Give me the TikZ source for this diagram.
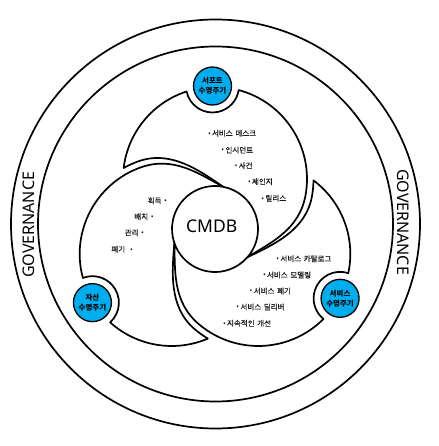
\documentclass[tikz,border=0pt]{standalone}
\usepackage{fontspec}
\setmainfont{Noto Sans}
\newfontfamily\kr{Noto Sans CJK KR}
\newfontfamily\krl[FakeBold=0.4]{Noto Sans CJK KR}
\newfontfamily\lat{Noto Sans}
\definecolor{lcblue}{RGB}{0,174,239}
\newcommand\bul{{\lat •}}
\newcommand\wsp{\hspace{0.35em}}
\begin{document}
\begin{tikzpicture}[x=1pt,y=1pt,
  outl/.style={draw=black, line width=1.7pt, line join=round},
  lobe/.style={outl, fill=white},
  lc/.style={circle, fill=lcblue, draw=black, line width=1.3pt, minimum size=38pt, inner sep=0pt, align=center, font=\kr\bfseries\fontsize{7.5}{10}\selectfont},
  item/.style={font=\krl\fontsize{7.5}{9}\selectfont, text=black!90, inner sep=0pt},
  gov/.style={font=\lat\fontsize{16}{16}\selectfont, inner sep=0pt},
]
\useasboundingbox (0,0) rectangle (438,446);
\fill[white] (0,0) rectangle (438,446);
\coordinate (ring) at (215.5,222);
\draw[outl] (ring) circle[radius=204.5];
\draw[outl] (ring) circle[radius=177.5];
\node[gov, rotate=90] (govL) at (29.2,221) {GOVERNANCE};
\node[gov, rotate=-90] (govR) at (403.5,224) {GOVERNANCE};
\def\lobe{(-91.34,60.99) arc[start angle=173.14,end angle=108.0,radius=92]
  arc[start angle=192.0,end angle=351.1,radius=26.5]
  arc[start angle=75.08,end angle=-10,radius=92]
  .. controls (84.5,-0.45) and (56.25,-13.45) .. (-41:43)
  arc[start angle=-41,end angle=79,radius=43]
  .. controls (104.53:59.97) and (118.99:90.91) .. (138.74:102.43)
  arc[start angle=110,end angle=119.19,radius=98.5] -- cycle}
\begin{scope}[shift={(215,217)}]
  \foreach \a in {0,120,240}{\path[lobe, rotate=\a] \lobe;}
  \node[lc] (sup) at (91:143) {서포트\\수명주기};
  \node[lc] (ast) at (211:143) {자산\\수명주기};
  \node[lc] (svc) at (331:143) {서비스\\수명주기};
\end{scope}
\node[font=\lat\fontsize{17.5}{17.5}\selectfont, inner sep=0pt] (cmdb) at (211.7,219.3) {CMDB};
% top list
\node[item, anchor=west] (t1) at (207.8,312.7) {\bul\,서비스\wsp 데스크};
\node[item, anchor=west] (t2) at (221.2,296) {\bul\,인시던트};
\node[item, anchor=west] (t3) at (234.5,280.3) {\bul\,사건};
\node[item, anchor=west] (t4) at (247.8,264.3) {\bul\,체인지};
\node[item, anchor=west] (t5) at (261.2,247.7) {\bul\,릴리스};
% left list
\node[item, anchor=east] (l1) at (167.2,245.3) {획득\wsp\bul};
\node[item, anchor=east] (l2) at (153.8,229.3) {배치\wsp\bul};
\node[item, anchor=east] (l3) at (144.2,213.3) {관리\wsp\bul};
\node[item, anchor=east] (l4) at (133.2,196.7) {폐기\hspace{5pt}\bul};
% bottom-right list
\node[item, anchor=west] (r1) at (276.2,187.3) {\bul\,서비스\wsp 카탈로그};
\node[item, anchor=west] (r2) at (262.8,171) {\bul\,서비스\wsp 모델링};
\node[item, anchor=west] (r3) at (249.5,155) {\bul\,서비스\wsp 폐기};
\node[item, anchor=west] (r4) at (236.2,139) {\bul\,서비스\wsp 딜리버};
\node[item, anchor=west] (r5) at (222.8,122.7) {\bul\,지속적인\wsp 개선};
\end{tikzpicture}
\end{document}
